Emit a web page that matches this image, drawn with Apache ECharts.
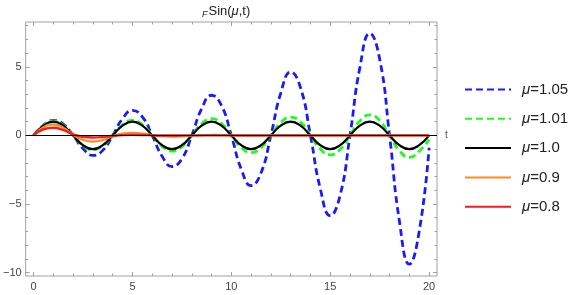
<!DOCTYPE html>
<html>
<head>
<meta charset="utf-8">
<script src="https://cdn.jsdelivr.net/npm/echarts@6/dist/echarts.min.js"></script>
<style>
html, body { margin: 0; padding: 0; background: #fff; }
#chart { width: 581px; height: 295px; }
</style>
</head>
<body>
<div id="chart"></div>
<script>
// sample points along t
const tValues = [0, 0.5, 1, 1.5, 2, 2.5, 3, 3.5, 4, 4.5, 5, 5.5, 6, 6.5, 7, 7.5, 8, 8.5, 9, 9.5,
  10, 10.5, 11, 11.5, 12, 12.5, 13, 13.5, 14, 14.5, 15, 15.5, 16, 16.5, 17, 17.5, 18, 18.5, 19, 19.5, 20]

// values
const mu105 = [0, 0.74, 1.1, 0.83, 0, -0.96, -1.46, -1.09, 0, 1.22, 1.83, 1.36, 0, -1.52, -2.27, -1.71,
  0, 1.95, 2.93, 2.19, 0, -2.45, -3.66, -2.74, 0, 3.09, 4.63, 3.47, 0, -3.89, -5.85, -4.38,
  0, 4.95, 7.44, 5.58, 0, -6.26, -9.39, -7.0, -0.9]
const mu101 = [0, 0.72, 1.05, 0.74, 0, -0.74, -1.05, -0.76, 0, 0.77, 1.1, 0.79, 0, -0.8, -1.15, -0.83,
  0, 0.85, 1.22, 0.87, 0, -0.88, -1.25, -0.9, 0, 0.93, 1.34, 0.97, 0, -0.99, -1.42, -1.03,
  0, 1.05, 1.5, 1.09, 0, -1.11, -1.6, -1.15, -0.3]
const mu100 = [0, 0.71, 1, 0.71, 0, -0.71, -1, -0.71, 0, 0.71, 1, 0.71, 0, -0.71, -1, -0.71,
  0, 0.71, 1, 0.71, 0, -0.71, -1, -0.71, 0, 0.71, 1, 0.71, 0, -0.71, -1, -0.71,
  0, 0.71, 1, 0.71, 0, -0.71, -1, -0.71, 0]
const mu090 = [0, 0.6, 0.8, 0.57, 0.05, -0.32, -0.45, -0.34, -0.06, 0.13, 0.19, 0.14, 0.03, -0.06, -0.09, -0.07,
  -0.02, 0.02, 0.04, 0.03, 0.01, -0.01, -0.02, -0.01, 0, 0.01, 0.01, 0, 0, 0, 0, 0,
  0, 0, 0, 0, 0, 0, 0, 0, 0]
const mu080 = [0, 0.45, 0.56, 0.4, 0.07, -0.1, -0.15, -0.12, -0.04, 0.02, 0.04, 0.03, 0.01, -0.01, -0.01, 0,
  0, 0, 0, 0, 0, 0, 0, 0, 0, 0, 0, 0, 0, 0, 0, 0,
  0, 0, 0, 0, 0, 0, 0, 0, 0]

const seriesNames = ['μ=1.05', 'μ=1.01', 'μ=1.0', 'μ=0.9', 'μ=0.8']

// tick labels
const xMajor = [0, 5, 10, 15, 20]
const xMinor = [0, 1, 2, 3, 4, 5, 6, 7, 8, 9, 10, 11, 12, 13, 14, 15, 16, 17, 18, 19, 20]
const yMajor = [-10, -5, 0, 5]
const yMinor = [-10, -9, -8, -7, -6, -5, -4, -3, -2, -1, 0, 1, 2, 3, 4, 5, 6, 7, 8]

const frameColor = '#a0a0a0'
const fontFam = 'Liberation Sans, Arial, sans-serif'
const labelFont = { color: '#444', fontSize: 11, fontFamily: fontFam }

function xAx (pos, ticks, len, labels) {
  return {
    type: 'value', min: -0.4, max: 20.4, position: pos,
    axisLine: { show: false, onZero: false },
    splitLine: { show: false },
    axisTick: { inside: true, length: len, customValues: ticks, lineStyle: { color: frameColor } },
    axisLabel: Object.assign({ show: !!labels, customValues: labels || ticks, margin: 5 }, labelFont)
  }
}

function yAx (pos, ticks, len, labels) {
  return {
    type: 'value', min: -10.25, max: 8.27, position: pos,
    axisLine: { show: false, onZero: false },
    splitLine: { show: false },
    axisTick: { inside: true, length: len, customValues: ticks, lineStyle: { color: frameColor } },
    axisLabel: Object.assign({
      show: !!labels, customValues: labels || ticks, margin: 4,
      formatter: v => String(v).replace('-', '\u2212')
    }, labelFont)
  }
}

function pairs (vals) {
  return tValues.map((t, i) => [t, vals[i]])
}

const chart = echarts.init(document.getElementById('chart'))

const option = {
  animation: false,
  title: {
    text: '{f|F}Sin({i|μ},t)',
    left: 202,
    top: 3,
    padding: 0,
    textStyle: {
      fontSize: 13, fontWeight: 'normal', color: '#222', fontFamily: fontFam,
      rich: {
        f: { fontSize: 9, fontStyle: 'italic', verticalAlign: 'bottom', padding: [7, 1, 0, 0], color: '#222', fontFamily: fontFam },
        i: { fontSize: 13, fontStyle: 'italic', color: '#222', fontFamily: fontFam }
      }
    }
  },
  legend: {
    orient: 'vertical',
    left: 464,
    top: 82,
    padding: 0,
    itemWidth: 46,
    itemHeight: 14,
    itemGap: 14.3,
    itemStyle: { opacity: 0 },
    data: seriesNames,
    formatter: name => '{i|μ}' + name.slice(1),
    textStyle: {
      fontSize: 15, color: '#222', lineHeight: 14, fontFamily: fontFam,
      padding: [0, 0, 0, 6],
      rich: { i: { fontSize: 15, fontStyle: 'italic', color: '#222', lineHeight: 14, fontFamily: fontFam } }
    }
  },
  grid: {
    left: 23, right: 144, top: 22, bottom: 19,
    show: true, borderColor: frameColor, borderWidth: 1, backgroundColor: 'transparent'
  },
  xAxis: [
    xAx('bottom', xMajor, 4, xMajor),
    xAx('bottom', xMinor, 2.5),
    xAx('top', xMajor, 4),
    xAx('top', xMinor, 2.5)
  ],
  yAxis: [
    yAx('left', yMajor, 4, yMajor),
    yAx('left', yMinor, 2.5),
    yAx('right', yMajor, 4),
    yAx('right', yMinor, 2.5)
  ],
  series: [
    {
      name: seriesNames[0], type: 'line', smooth: true, symbol: 'none',
      data: pairs(mu105), color: '#1a1aff',
      lineStyle: { width: 2.8, type: [7, 4] },
      markLine: {
        silent: true, symbol: 'none', animation: false,
        lineStyle: { color: '#000', width: 1, type: 'solid' },
        label: { show: true, position: 'end', formatter: 't', color: '#555', fontSize: 10, distance: 8 },
        emphasis: { disabled: true },
        data: [{ yAxis: 0 }]
      }
    },
    {
      name: seriesNames[1], type: 'line', smooth: true, symbol: 'none',
      data: pairs(mu101), color: '#1aff1a',
      lineStyle: { width: 2.8, type: [7, 4] }
    },
    {
      name: seriesNames[2], type: 'line', smooth: true, symbol: 'none',
      data: pairs(mu100), color: '#000000',
      lineStyle: { width: 2.2 }
    },
    {
      name: seriesNames[3], type: 'line', smooth: true, symbol: 'none',
      data: pairs(mu090), color: '#ff8c1a',
      lineStyle: { width: 2.2 }
    },
    {
      name: seriesNames[4], type: 'line', smooth: true, symbol: 'none',
      data: pairs(mu080), color: '#ff1a1a',
      lineStyle: { width: 2.4 }
    }
  ]
}

chart.setOption(option)
</script>
</body>
</html>
